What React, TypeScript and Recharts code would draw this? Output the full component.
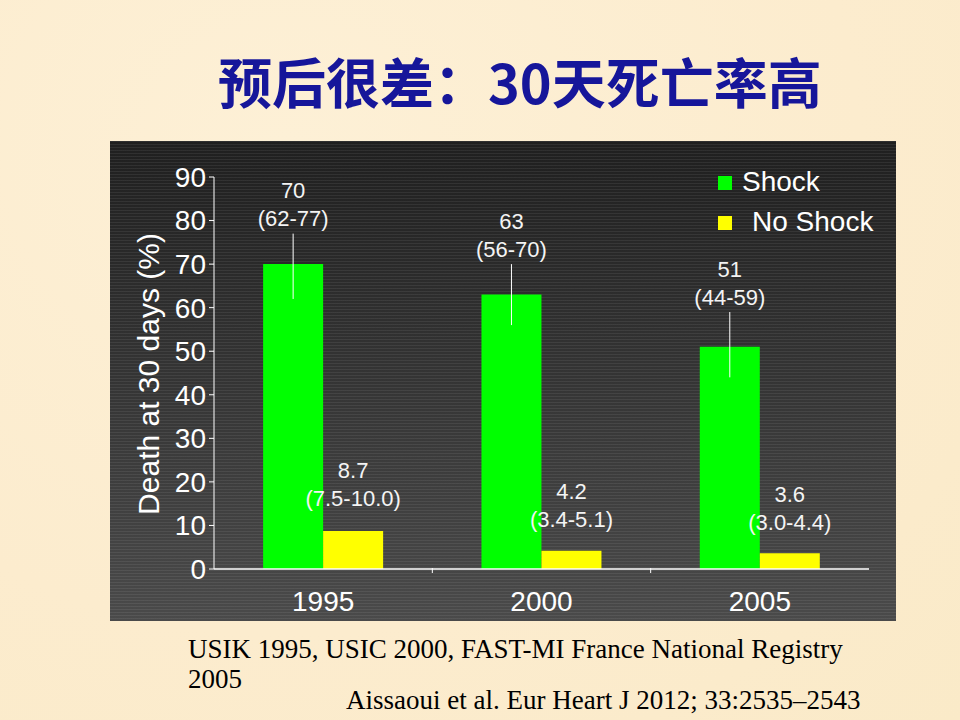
import { BarChart, Bar, XAxis, YAxis, ErrorBar, LabelList, Legend, Label } from "recharts";

const years = ["1995", "2000", "2005"];
const shock = [70, 63, 51];
const shockLow = [62, 56, 44];
const shockHigh = [77, 70, 59];
const noShock = [8.7, 4.2, 3.6];
const noShockLow = [7.5, 3.4, 3.0];
const noShockHigh = [10.0, 5.1, 4.4];
const yTicks = [0, 10, 20, 30, 40, 50, 60, 70, 80, 90];

const GREEN = "#00ff00";
const YELLOW = "#ffff00";
const FONT = "'Liberation Sans', Arial, sans-serif";
const SERIF = "'Liberation Serif', 'Times New Roman', serif";

const CHART_W = 786;
const CHART_H = 480;
const MARGIN = { top: 36, right: 27, bottom: 0, left: 0 };
const Y_AXIS_W = 104;
const BAND = (CHART_W - MARGIN.left - MARGIN.right - Y_AXIS_W) / years.length;

const data = years.map((year, i) => ({
  year,
  shock: shock[i],
  shockErr: [shock[i] - shockLow[i], shockHigh[i] - shock[i]],
  noShock: noShock[i],
}));

// two-line label (value + CI) sitting above the top of the interval
function makeLabel(values: number[], lows: number[], highs: number[], digits: number, valueOff: number, ciOff: number) {
  return (props: any) => {
    const { x, y, width, height, index } = props;
    const v = values[index];
    const ppu = height / v;
    const errTop = y - (highs[index] - v) * ppu;
    const cx = x + width / 2;
    const txt = { fill: "#f4f4f4", fontSize: 22, fontFamily: FONT, textAnchor: "middle" as const, dominantBaseline: "central" as const };
    return (
      <g>
        <text x={cx} y={errTop - valueOff} {...txt}>{v}</text>
        <text x={cx} y={errTop - ciOff} {...txt}>
          {`(${lows[index].toFixed(digits)}-${highs[index].toFixed(digits)})`}
        </text>
      </g>
    );
  };
}

function YearTick(props: any) {
  const { x, y, payload, index } = props;
  return (
    <g>
      {index > 0 && <line x1={x - BAND / 2} x2={x - BAND / 2} y1={y - 1} y2={y + 4} stroke="#fff" />}
      <text x={x} y={y + 32} fill="#fff" fontSize={28} fontFamily={FONT} textAnchor="middle" dominantBaseline="central">
        {payload.value}
      </text>
    </g>
  );
}

function renderLegend() {
  const items = [
    { label: "Shock", color: GREEN, top: 35, textLeft: 632 },
    { label: "No Shock", color: YELLOW, top: 75, textLeft: 642 },
  ];
  return (
    <div style={{ position: "relative", width: CHART_W, height: 0 }}>
      {items.map((it) => (
        <div key={it.label}>
          <div style={{ position: "absolute", left: 608, top: it.top, width: 14, height: 14, background: it.color }} />
          <div
            style={{
              position: "absolute",
              left: it.textLeft,
              top: it.top - 10,
              color: "#fff",
              fontSize: 28,
              fontFamily: FONT,
              lineHeight: "32px",
              whiteSpace: "nowrap",
            }}
          >
            {it.label}
          </div>
        </div>
      ))}
    </div>
  );
}

export default function App() {
  return (
    <div
      style={{
        position: "absolute",
        left: 0,
        top: 0,
        width: 960,
        height: 720,
        background: "radial-gradient(ellipse at 30% 20%, #fdf0d6 0%, #fcecce 60%, #faeac8 100%)",
        overflow: "hidden",
      }}
    >
      <div
        style={{
          position: "absolute",
          left: 218,
          top: 49,
          color: "#16169a",
          fontSize: 54,
          fontWeight: 700,
          fontFamily: "'Noto Sans CJK SC', sans-serif",
          lineHeight: "64px",
          whiteSpace: "nowrap",
        }}
      >
        预后很差：30天死亡率高
      </div>

      <div
        style={{
          position: "absolute",
          left: 110,
          top: 141,
          width: CHART_W,
          height: CHART_H,
          background:
            "repeating-linear-gradient(to bottom, rgba(255,255,255,0.07) 0px, rgba(255,255,255,0.07) 1px, rgba(0,0,0,0) 1px, rgba(0,0,0,0) 3px), linear-gradient(to bottom, #1f1f1f, #4a4a4a)",
        }}
      >
        <BarChart width={CHART_W} height={CHART_H} data={data} margin={MARGIN} barCategoryGap="22.5%" barGap={0}>
          <XAxis
            dataKey="year"
            height={52}
            axisLine={{ stroke: "#fff", strokeWidth: 1.5 }}
            tickLine={false}
            tickSize={0}
            tickMargin={0}
            tick={<YearTick />}
            interval={0}
          />
          <YAxis
            width={Y_AXIS_W}
            domain={[0, 90]}
            ticks={yTicks}
            interval={0}
            axisLine={{ stroke: "#fff" }}
            tickLine={{ stroke: "#fff" }}
            tickSize={5}
            tickMargin={3}
            tick={{ fill: "#fff", fontSize: 28, fontFamily: FONT }}
          >
            <Label
              content={(props: any) => {
                const vb = props.viewBox;
                const lx = vb.x + 38;
                const ly = vb.y + vb.height / 2 + 1;
                return (
                  <text
                    x={lx}
                    y={ly}
                    transform={`rotate(-90, ${lx}, ${ly})`}
                    fill="#fff"
                    fontSize={30}
                    fontFamily={FONT}
                    textAnchor="middle"
                    dominantBaseline="central"
                  >
                    Death at 30 days (%)
                  </text>
                );
              }}
            />
          </YAxis>
          <Legend
            layout="horizontal"
            verticalAlign="middle"
            align="center"
            wrapperStyle={{ left: 0, top: 0, width: CHART_W, height: 0 }}
            content={renderLegend}
          />
          <Bar dataKey="shock" name="Shock" fill={GREEN} isAnimationActive={false}>
            <ErrorBar dataKey="shockErr" width={0} stroke="#fff" strokeWidth={1} direction="y" />
            <LabelList dataKey="shock" content={makeLabel(shock, shockLow, shockHigh, 0, 43, 15)} />
          </Bar>
          <Bar dataKey="noShock" name="No Shock" fill={YELLOW} isAnimationActive={false}>
            <LabelList dataKey="noShock" content={makeLabel(noShock, noShockLow, noShockHigh, 1, 55, 27)} />
          </Bar>
        </BarChart>
      </div>

      <div
        style={{
          position: "absolute",
          left: 188,
          top: 634,
          width: 700,
          color: "#000",
          fontSize: 27,
          fontFamily: SERIF,
          lineHeight: "30px",
        }}
      >
        USIK 1995, USIC 2000, FAST-MI France National Registry
        <br />
        2005
      </div>
      <div
        style={{
          position: "absolute",
          left: 346,
          top: 685,
          color: "#000",
          fontSize: 27,
          fontFamily: SERIF,
          lineHeight: "30px",
          whiteSpace: "nowrap",
        }}
      >
        Aissaoui et al. Eur Heart J 2012; 33:2535–2543
      </div>
    </div>
  );
}
